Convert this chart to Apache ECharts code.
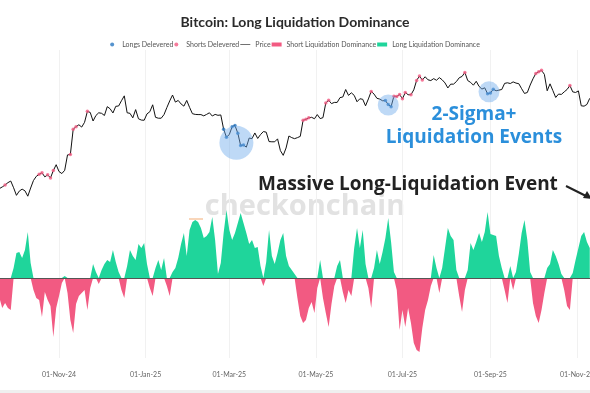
<!DOCTYPE html>
<html><head><meta charset="utf-8">
<script src="https://cdn.jsdelivr.net/npm/echarts@6/dist/echarts.min.js"></script>
<style>html,body{margin:0;padding:0;background:#fff}#c{width:590px;height:393px}</style>
</head><body><div id="c"></div><script>
// ---- data ----
const startDate = '2024-09-20';
const stepDays = 2;
// BTC price, thousands USD, every 2 days from startDate
const price = [
63.0,63.6,64.3,65.2,65.8,63.3,
60.6,62.1,62.8,62.2,60.3,63.2,66.0,67.6,68.4,69.0,67.4,68.2,67.0,69.9,72.3,
69.5,68.7,70.0,76.5,76.7,88.7,90.0,91.0,89.8,92.3,98.3,97.7,93.0,96.0,97.5,
97.2,96.0,101.0,99.8,97.4,101.2,101.4,104.5,107.5,97.5,97.2,94.7,99.3,94.2,93.5,93.4,
96.9,98.1,102.1,95.0,94.5,94.5,96.5,100.5,104.4,108.0,103.7,104.7,102.6,101.3,104.7,
100.6,97.0,96.6,96.5,96.5,95.8,96.6,97.5,95.7,96.6,96.1,96.3,88.7,84.7,
86.0,90.0,90.6,86.7,80.7,81.0,80.0,84.3,84.0,86.8,84.1,86.0,87.5,87.2,82.6,82.5,
82.5,83.9,78.4,76.3,79.6,85.3,84.5,84.0,84.5,85.1,93.4,93.9,94.7,95.0,94.2,
96.5,94.3,94.8,103.2,104.8,102.8,103.5,103.5,106.4,106.8,111.5,107.8,109.4,107.8,103.9,
105.7,105.4,101.5,105.6,110.3,108.6,106.0,105.5,104.5,104.6,102.2,101.0,107.3,107.1,108.4,
105.7,109.6,108.2,108.2,111.3,117.5,120.5,117.8,120.0,117.9,117.4,118.7,117.6,119.4,117.9,115.8,
112.5,115.0,115.0,116.7,119.3,120.2,123.0,117.4,116.2,114.3,116.9,113.5,111.8,112.6,108.8,
109.2,111.7,110.7,111.1,111.5,115.5,115.9,115.4,116.5,115.7,115.3,112.0,109.0,109.6,114.4,
118.6,122.3,123.5,124.5,121.7,110.7,115.2,110.8,106.5,108.6,108.4,110.0,111.5,114.1,110.0,109.6,
110.6,101.5,101.3,102.3,106.0
];
// long minus short liquidation dominance (%), same dates
const dominance = [
-20,-30,-25,-30,-32,10,25,26,20,28,46,15,-12,-20,-22,-39,-14,-22,-28,-59,
-30,-18,-5,2,-15,-42,-55,-26,-18,-15,-12,-32,-10,14,6,-6,8,14,18,16,
28,16,6,-12,-20,12,28,22,18,34,30,35,14,-10,-18,10,18,8,20,-8,
-18,6,10,20,34,45,22,48,56,58,56,50,40,42,46,61,38,4,15,45,
68,48,38,45,55,65,55,45,34,38,30,31,12,-8,16,48,22,14,25,38,
45,22,12,8,4,-20,-38,-45,-42,-30,-24,-35,-10,18,-20,-35,-49,-26,-8,12,
18,-14,-25,-12,-18,30,50,30,48,14,-10,-30,10,28,14,26,40,60,36,6,
-12,-52,-32,-49,-30,-45,-65,-72,-74,-50,-32,-22,-8,23,10,-15,10,30,50,42,
38,8,-18,-34,-12,8,35,28,36,45,36,46,66,44,43,42,22,10,-12,-25,
12,-12,6,24,45,58,38,6,-25,-38,-45,-32,-15,10,14,28,22,14,4,-12,
-28,-32,5,18,30,42,46,36,30
];
const shortsDeleveredDates = ['2024-09-24','2024-10-18','2024-10-20','2024-10-24','2024-10-26','2024-10-28',
  '2024-11-09','2024-11-11','2024-11-13','2024-11-21',
  '2025-04-22','2025-04-24','2025-04-26','2025-05-08','2025-05-10','2025-06-09',
  '2025-06-25','2025-06-27','2025-06-29','2025-07-01','2025-07-03','2025-07-07',
  '2025-07-11','2025-07-13','2025-07-15','2025-08-14',
  '2025-10-03','2025-10-05','2025-10-07','2025-10-27'];
const longsDeleveredDates = ['2025-02-25','2025-02-27','2025-03-03','2025-03-05','2025-03-07','2025-03-09','2025-03-11',
  '2025-06-19','2025-06-21','2025-06-23','2025-08-30','2025-09-01','2025-09-03'];
const tickDates = ['2024-11-01','2025-01-01','2025-03-01','2025-05-01','2025-07-01','2025-09-01','2025-11-01'];
const tickLabels = ['01-Nov-24','01-Jan-25','01-Mar-25','01-May-25','01-Jul-25','01-Sep-25','01-Nov-25'];
// highlighted 2-sigma events: [date, price (k), circle diameter]
const sigmaEvents = [['2025-03-06', 82, 34], ['2025-06-21', 102, 21], ['2025-08-31', 110, 21]];
const xMin = '2024-09-20T10:00:00Z';
const xMax = '2025-11-10T04:00:00Z';

// ---- build ----
const DAY = 86400000;
const t0 = Date.parse(startDate + 'T00:00:00Z');
const times = price.map((_, i) => t0 + i * stepDays * DAY);
const priceData = price.map((v, i) => [times[i], v]);
const longDom = dominance.map((v, i) => [times[i], v > 0 ? v : 0]);
const shortDom = dominance.map((v, i) => [times[i], v < 0 ? v : 0]);
const at = d => { const i = Math.round((Date.parse(d + 'T00:00:00Z') - t0) / (stepDays * DAY)); return [times[i], price[i]]; };
const tickTimes = tickDates.map(d => Date.parse(d + 'T00:00:00Z'));

const PINK = '#f25a82', TEAL = '#1fd59b', BLUE = '#2a78c2';
const FONT = 'Lato';
const ANN = '"Open Sans"';
const chart = echarts.init(document.getElementById('c'), null, {renderer: 'canvas'});
const xBase = {
  type: 'value', min: Date.parse(xMin), max: Date.parse(xMax),
  axisLine: {show: false},
  axisTick: {show: false, customValues: tickTimes},
  splitLine: {show: true, lineStyle: {color: '#f1f1f1', width: 1}}
};
chart.setOption({
  animation: false,
  backgroundColor: '#fff',
  title: {text: 'Bitcoin: Long Liquidation Dominance', left: 'center', top: 10,
    textStyle: {fontFamily: FONT, fontWeight: 'bold', fontSize: 14, color: '#2a2a2a'}},
  legend: {top: 36, left: 'center', itemWidth: 10, itemHeight: 4, itemGap: 1,
    textStyle: {fontFamily: FONT, fontSize: 7, color: '#555'},
    data: [
      {name: 'Longs Delevered', icon: 'circle'},
      {name: 'Shorts Delevered', icon: 'circle'},
      {name: 'Price', icon: 'path://M0 0 H20 V1.2 H0 Z'},
      {name: 'Short Liquidation Dominance', icon: 'rect'},
      {name: 'Long Liquidation Dominance', icon: 'rect'}
    ]},
  grid: [
    {left: 0, right: 0, top: 50, height: 178.7, outerBoundsMode: 'none', containLabel: false},
    {left: 0, right: 0, top: 198, height: 160, outerBoundsMode: 'none', containLabel: false}
  ],
  xAxis: [
    Object.assign({}, xBase, {gridIndex: 0, axisLabel: {show: false}}),
    Object.assign({}, xBase, {gridIndex: 1,
      axisLabel: {show: true, customValues: tickTimes, margin: 13, fontFamily: FONT, fontSize: 7, color: '#666',
        formatter: v => tickLabels[tickTimes.indexOf(v)] || ''}})
  ],
  yAxis: [
    {type: 'log', gridIndex: 0, min: 50, max: 140, show: false},
    {type: 'value', gridIndex: 1, min: -80, max: 80, show: false}
  ],
  series: [
    {name: 'Longs Delevered', type: 'scatter', xAxisIndex: 0, yAxisIndex: 0, symbolSize: 3.5, z: 4,
      itemStyle: {color: BLUE}, data: longsDeleveredDates.map(at)},
    {name: 'Shorts Delevered', type: 'scatter', xAxisIndex: 0, yAxisIndex: 0, symbolSize: 3.5, z: 4,
      itemStyle: {color: PINK}, data: shortsDeleveredDates.map(at)},
    {name: 'Price', type: 'line', xAxisIndex: 0, yAxisIndex: 0, symbol: 'none', z: 3,
      lineStyle: {color: '#111', width: 1}, itemStyle: {color: '#111'}, data: priceData,
      markPoint: {silent: true, symbol: 'circle', label: {show: false},
        itemStyle: {color: 'rgba(110,170,235,0.45)'},
        data: sigmaEvents.map(e => ({coord: [Date.parse(e[0] + 'T00:00:00Z'), e[1]], symbolSize: e[2]}))}},
    {name: 'Short Liquidation Dominance', type: 'line', xAxisIndex: 1, yAxisIndex: 1, symbol: 'none',
      lineStyle: {width: 0}, itemStyle: {color: PINK}, areaStyle: {color: PINK, opacity: 1}, data: shortDom},
    {name: 'Long Liquidation Dominance', type: 'line', xAxisIndex: 1, yAxisIndex: 1, symbol: 'none',
      lineStyle: {width: 0}, itemStyle: {color: TEAL}, areaStyle: {color: TEAL, opacity: 1}, data: longDom,
      markLine: {silent: true, symbol: 'none', label: {show: false},
        lineStyle: {color: '#555', width: 1, type: 'solid'}, data: [{yAxis: 0}]}}
  ],
  graphic: [
    {type: 'text', x: 305, y: 207, z: -1, style: {text: 'checkonchain', fill: '#e2e2e2',
      font: 'bold 29px ' + ANN, textAlign: 'center', textVerticalAlign: 'middle'}},
    {type: 'line', z: -1, shape: {x1: 189, y1: 219, x2: 203, y2: 219}, style: {stroke: '#f7c9a3', lineWidth: 1.5}},
    {type: 'text', x: 474, y: 126, z: 10, style: {text: '2-Sigma+\nLiquidation Events', fill: '#2b8fdb',
      font: 'bold 19px ' + ANN, textAlign: 'center', textVerticalAlign: 'middle', lineHeight: 23}},
    {type: 'text', x: 258, y: 185, z: 10, style: {text: 'Massive Long-Liquidation Event', fill: '#222',
      font: 'bold 19px ' + ANN, textAlign: 'left', textVerticalAlign: 'middle'}},
    {type: 'line', z: 10, shape: {x1: 566, y1: 186, x2: 588, y2: 197}, style: {stroke: '#222', lineWidth: 2}},
    {type: 'polygon', z: 10, shape: {points: [[592, 199], [583, 198], [587, 191]]}, style: {fill: '#222'}},
    {type: 'rect', z: 10, shape: {x: 0, y: 390, width: 590, height: 3}, style: {fill: '#efefef'}}
  ]
});
</script></body></html>
